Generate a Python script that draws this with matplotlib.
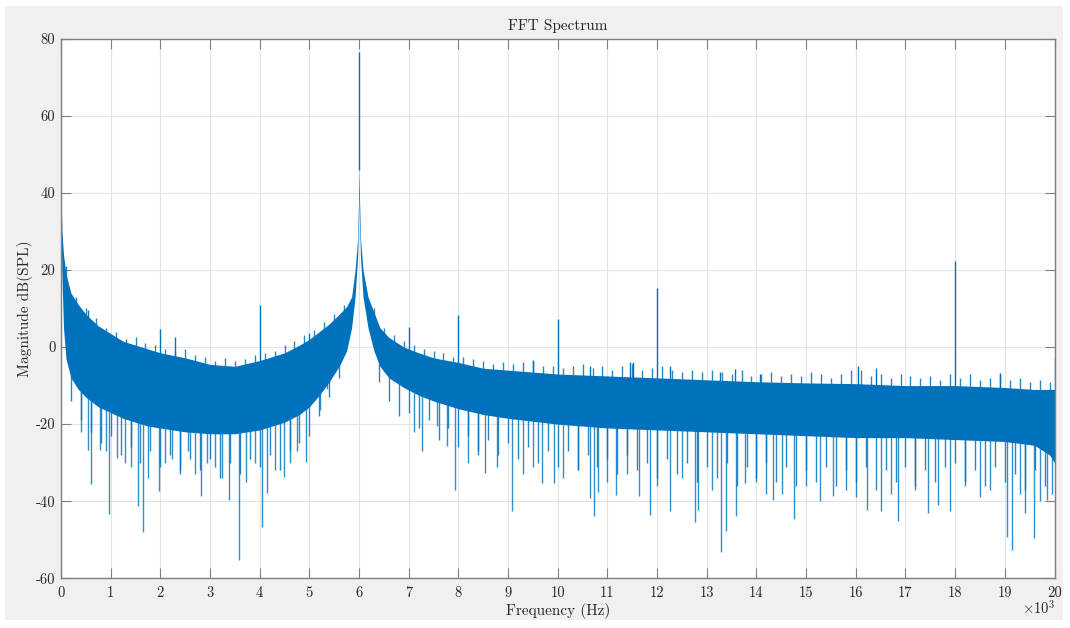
import numpy as np
import matplotlib
matplotlib.use("Agg")
import matplotlib.pyplot as plt
from matplotlib.patches import Rectangle

# ---------------- data ----------------
title = "FFT Spectrum"
x_label = "Frequency (Hz)"
y_label = "Magnitude dB(SPL)"
x_ticks_khz = list(range(0, 21))
x_tick_labels = [str(v) for v in x_ticks_khz]
y_ticks = [-60, -40, -20, 0, 20, 40, 60, 80]
y_tick_labels = ["-60", "-40", "-20", "0", "20", "40", "60", "80"]

# noise band: knot frequency (kHz), upper edge (dB), lower edge of dense core (dB)
band_khz = [0.00, 0.02, 0.05, 0.10, 0.20, 0.35, 0.50, 0.75, 1.00, 1.25, 1.50,
            1.75, 2.00, 2.50, 3.00, 3.50, 4.00, 4.50, 4.80, 5.00, 5.20, 5.40,
            5.60, 5.75, 5.85, 5.92, 5.97, 5.99, 6.00, 6.01, 6.03, 6.08, 6.18,
            6.30, 6.42, 6.60, 6.90, 7.20, 7.50, 8.00, 8.50, 9.00, 10.0, 11.0,
            12.0, 13.0, 14.0, 15.0, 16.0, 17.0, 18.0, 19.0, 19.6, 19.9, 20.0]
band_upper = [40, 30, 24, 19, 14, 11, 8.5, 5.5, 3.5, 1.5, 0.5,
              -0.5, -1.5, -2.8, -4.5, -5, -3.5, -1.5, 0.5, 2, 4, 6,
              8.5, 10.5, 13, 20, 28, 38, 47, 38, 28, 20, 13,
              9, 5, 2.5, 0, -1.5, -2.8, -4, -5.5, -6, -7, -7.5,
              -8, -8.5, -9, -9.3, -9.5, -10, -10, -10.5, -11, -11, -11]
band_lower = [30, 18, 5, -3, -8, -11, -13, -15.5, -17, -18.5, -19.5,
              -20.5, -21, -22, -22.5, -22.5, -21.5, -19.5, -17.5, -15.5, -12.5, -9,
              -5, -1, 5, 13, 23, 32, 40, 32, 23, 13, 5,
              -1, -5, -8, -10.5, -12.5, -14, -16, -17.5, -18.5, -20, -21,
              -21.5, -22, -22.5, -23, -23.5, -23.5, -24, -24.5, -25.5, -28, -30]

# isolated upward spikes: frequency (kHz), tip level (dB)
up_spike_khz = [6.00, 18.0, 12.0, 4.00, 8.00, 10.0, 7.00, 2.00, 5.00, 2.29,
                0.32, 0.55, 9.51, 10.65, 11.46, 11.51, 12.26, 13.26, 13.56,
                14.08, 16.04, 16.40, 18.90, 20.0]
up_spike_db = [76.6, 22.2, 15.4, 10.8, 8.2, 7.3, 5.3, 4.7, 3.7, 2.7,
               11, 9.7, -3.3, -4.9, -4.0, -4.0, -4.8, -6.5, -5.7,
               -7, -5, -5.4, -6.8, -2.5]

# deep downward spikes: frequency (kHz), tip level (dB)
down_spike_khz = [0.55, 0.61, 0.79, 0.97, 1.12, 1.29, 1.55, 1.66, 1.75, 1.98,
                  2.23, 2.56, 2.82, 2.93, 3.38, 3.58, 3.73, 4.05, 4.14, 4.48,
                  4.75, 4.93, 5.21, 5.35, 7.26, 7.57, 7.78, 7.93, 8.54, 8.77,
                  9.07, 9.68, 9.93, 10.64, 10.72, 10.81, 11.17, 11.63, 11.86,
                  12.25, 12.77, 12.83, 13.29, 13.39, 13.59, 13.77, 14.34, 14.51,
                  14.75, 15.28, 15.55, 16.22, 16.50, 16.85, 17.45, 17.66, 17.89,
                  19.04, 19.14, 19.41, 19.59, 19.85,
                  0.40, 0.90, 1.40, 2.10, 2.40, 2.70, 3.10, 3.25, 3.90, 4.30,
                  4.60, 7.10, 8.20, 8.40, 9.30, 9.50, 10.10, 10.40, 11.00,
                  11.40, 12.00, 12.50, 13.10, 14.00, 14.20, 15.00, 15.80,
                  16.00, 16.70, 17.20, 18.20, 18.50, 18.70, 19.30, 19.70, 19.95]
down_spike_db = [-26.6, -35.5, -26.6, -43.3, -28.7, -30, -41.2, -48.1, -33.9, -37.4,
                 -29, -27, -38.6, -30, -39.6, -55.2, -34.9, -46.7, -37.9, -33.6,
                 -27, -29.7, -16.3, -11, -27, -20.6, -25.8, -37, -32.7, -31,
                 -42.6, -35.3, -35.3, -39.2, -43.9, -37.7, -38.3, -38.6, -43.5,
                 -42.6, -45.5, -42.4, -53.3, -47.8, -43.9, -35.3, -39.6, -38,
                 -44.6, -40, -38.7, -42.2, -42.6, -45.2, -43, -40.9, -42.6,
                 -49.4, -52.6, -43, -49.5, -39.6,
                 -22, -27, -31, -30, -32, -33, -31, -34, -30, -32,
                 -30, -22, -30, -28, -33, -31, -34, -32, -35,
                 -33, -36, -34, -37, -35, -38, -36, -37,
                 -39, -38, -37, -36, -39, -37, -38, -40, -38]

# fringe of small peaks along the top of the noise band (kHz, dB)
top_fringe_khz = [0.1, 0.3, 0.5, 0.7, 0.9, 1.1, 1.3, 1.5, 1.7, 1.9, 2.1, 2.3, 2.5,
                  2.7, 2.9, 3.1, 3.3, 3.5, 3.7, 3.9, 4.1, 4.3, 4.5, 4.7, 4.9, 5.1,
                  5.3, 5.5, 5.7, 6.3, 6.5, 6.7, 6.9, 7.1, 7.3, 7.5, 7.7, 7.9,
                  8.1, 8.3, 8.5, 8.7, 8.9, 9.1, 9.3, 9.5, 9.7, 9.9, 10.1, 10.3,
                  10.5, 10.7, 10.9, 11.1, 11.3, 11.5, 11.7, 11.9, 12.1, 12.3,
                  12.5, 12.7, 12.9, 13.1, 13.3, 13.5, 13.7, 13.9, 14.1, 14.3,
                  14.5, 14.7, 14.9, 15.1, 15.3, 15.5, 15.7, 15.9, 16.1, 16.3,
                  16.5, 16.7, 16.9, 17.1, 17.3, 17.5, 17.7, 17.9, 18.1, 18.3,
                  18.5, 18.7, 18.9, 19.1, 19.3, 19.5, 19.7, 19.9]
top_fringe_db = [21, 13, 10, 7.5, 5, 4, 2, 2.5, 1, 0.5, -0.5, -1, -0.5,
                 -2, -2.5, -3.5, -2.8, -3.5, -3, -2, -1.5, -1, 0.5, 1.5, 3, 4.5,
                 6.5, 8.5, 11, 10, 5, 3, 1.5, 0.5, -0.5, -1, -1.5, -2.5,
                 -2.5, -3, -3.5, -4.5, -4, -4.5, -4, -3.5, -5, -5, -5.5, -5,
                 -4.5, -5.5, -5, -6, -5, -4.5, -6, -5.5, -5, -6,
                 -6.5, -6, -6.5, -6, -6.5, -7, -6, -7.5, -7, -6.5,
                 -7.5, -7, -7.5, -6.5, -7, -8, -7, -6, -6, -7.5,
                 -7, -8, -7, -7.5, -8, -7.5, -8.5, -7, -8, -7,
                 -8.5, -8, -7, -8.5, -8, -9, -8.5, -9]

# fringe of shallow dips below the dense core (kHz, dB)
bottom_fringe_khz = [0.2, 0.4, 0.6, 0.8, 1.0, 1.2, 1.4, 1.6, 1.8, 2.0, 2.2, 2.4,
                     2.6, 2.8, 3.0, 3.2, 3.4, 3.6, 3.8, 4.0, 4.2, 4.4, 4.6, 4.8,
                     5.0, 5.2, 5.4, 5.6, 6.4, 6.6, 6.8, 7.0, 7.2, 7.4, 7.6, 7.8,
                     8.0, 8.2, 8.4, 8.6, 8.8, 9.0, 9.2, 9.4, 9.6, 9.8, 10.0,
                     10.2, 10.4, 10.6, 10.8, 11.0, 11.2, 11.4, 11.6, 11.8, 12.0,
                     12.2, 12.4, 12.6, 12.8, 13.0, 13.2, 13.4, 13.6, 13.8, 14.0,
                     14.2, 14.4, 14.6, 14.8, 15.0, 15.2, 15.4, 15.6, 15.8, 16.0,
                     16.2, 16.4, 16.6, 16.8, 17.0, 17.2, 17.4, 17.6, 17.8, 18.0,
                     18.2, 18.4, 18.6, 18.8, 19.0, 19.2, 19.4, 19.6, 19.8]
bottom_fringe_db = [-14, -19, -22, -25, -23, -28, -26, -30, -27, -31, -28, -33,
                    -29, -32, -29, -34, -30, -33, -29, -31, -28, -32, -27, -25,
                    -23, -18, -13, -8, -9, -14, -18, -17, -21, -19, -24, -21,
                    -26, -23, -27, -24, -28, -25, -29, -26, -30, -27, -31,
                    -27, -32, -28, -31, -29, -33, -28, -32, -30, -34,
                    -29, -33, -30, -35, -31, -34, -30, -36, -31, -34,
                    -30, -35, -31, -36, -32, -35, -31, -36, -32, -35,
                    -31, -37, -32, -35, -31, -36, -32, -35, -31, -30,
                    -35, -32, -36, -31, -35, -33, -37, -32, -36]

# ---------------- figure ----------------
plt.rcParams["font.family"] = ["cmr10", "DejaVu Serif"]
plt.rcParams["mathtext.fontset"] = "cm"
plt.rcParams["axes.unicode_minus"] = False

W, H = 1070, 628
fig = plt.figure(figsize=(W / 100, H / 100), dpi=100, facecolor="white")
bg = Rectangle((5 / W, 1 - 620 / H), (1063 - 5) / W, (620 - 6) / H,
               transform=fig.transFigure, facecolor="#f0f0f0",
               edgecolor="none", zorder=-10)
fig.add_artist(bg)

ax = fig.add_axes([61 / W, 1 - 578.3 / H, (1054.5 - 61) / W, (578.3 - 38.7) / H])
ax.set_zorder(1)
ax.set_facecolor("white")

blue = "#0072BD"
fx = np.array(band_khz) * 1000.0
fu = np.array(band_upper)
fl = np.array(band_lower)
ax.fill_between(fx, fl, fu, color=blue, linewidth=0, zorder=2)

# fringes
tx = np.array(top_fringe_khz) * 1000.0
ax.vlines(tx, np.interp(tx, fx, fu) - 1, top_fringe_db, color=blue, lw=1.0,
          alpha=0.85, zorder=3)
bx = np.array(bottom_fringe_khz) * 1000.0
ax.vlines(bx, bottom_fringe_db, np.interp(bx, fx, fl) + 1, color=blue, lw=1.0,
          alpha=0.85, zorder=3)

ux = np.array(up_spike_khz) * 1000.0
ax.vlines(ux, np.interp(ux, fx, fu) - 1, up_spike_db, color=blue, lw=1.0, zorder=3)
dx = np.array(down_spike_khz) * 1000.0
ax.vlines(dx, down_spike_db, np.interp(dx, fx, fl) + 1, color=blue, lw=1.0,
          alpha=0.8, zorder=3)

ax.set_xlim(0, 20000)
ax.set_ylim(-60, 80)
ax.set_xticks([v * 1000 for v in x_ticks_khz], labels=x_tick_labels)
ax.set_yticks(y_ticks, labels=y_tick_labels)

spine_c = "#7f7f7f"
text_c = "#262626"
for s in ax.spines.values():
    s.set_color(spine_c)
    s.set_linewidth(1.0)
ax.tick_params(direction="in", length=7, width=0.8, color=spine_c,
               labelcolor=text_c, labelsize=10.5, top=True, right=True)
ax.tick_params(axis="x", pad=6)
ax.tick_params(axis="y", pad=4)
ax.grid(True, color="#e3e3e3", linewidth=0.8)
ax.set_axisbelow(True)

ax.set_title(title, fontsize=11, color=text_c, pad=6)
ax.set_xlabel(x_label, fontsize=11, color=text_c, labelpad=2)
ax.set_ylabel(y_label, fontsize=11, color=text_c, labelpad=2)
fig.text(1055 / W, 1 - 608 / H, r"$\times10^{3}$", ha="right", va="center",
         fontsize=10.5, color=text_c)

fig.savefig("out.png", dpi=100, facecolor=fig.get_facecolor())
